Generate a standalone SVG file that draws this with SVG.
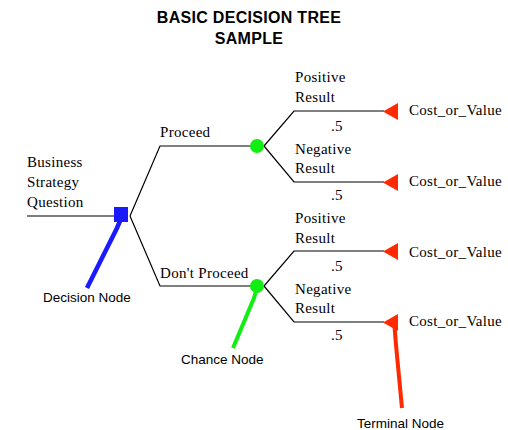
<svg xmlns="http://www.w3.org/2000/svg" width="508" height="430" viewBox="0 0 508 430">
  <style>
    .title { font-family: "Liberation Sans", Arial, sans-serif; font-weight: bold; font-size: 16px; fill: #000; letter-spacing: 0.3px; }
    .lbl { font-family: "Liberation Serif", "Times New Roman", serif; font-size: 15px; fill: #000; letter-spacing: 0.3px; }
    .call { font-family: "Liberation Sans", Arial, sans-serif; font-size: 13.5px; fill: #000; }
    .branch { fill: none; stroke: #000; stroke-width: 1.2; }
    .decision { fill: #1a1aff; }
    .chance { fill: #11ee11; }
    .terminal { fill: #ff2a00; }
  </style>

  <!-- title -->
  <text class="title" x="249" y="23" text-anchor="middle">BASIC DECISION TREE</text>
  <text class="title" x="249" y="44" text-anchor="middle">SAMPLE</text>

  <!-- connectors -->
  <g id="connectors">
    <polyline class="branch" points="27,216 115,216"/>
    <polyline class="branch" points="130,216 160,146 252,146"/>
    <polyline class="branch" points="130,216 160,286 252,286"/>
    <polyline class="branch" points="264,146 294,111 384,111"/>
    <polyline class="branch" points="264,146 294,182 384,182"/>
    <polyline class="branch" points="264,286 294,251 384,251"/>
    <polyline class="branch" points="264,286 294,322 384,322"/>
    <!-- callout pointers -->
    <polyline points="120,221 117,228 87,288" fill="none" stroke="#1a1aff" stroke-width="4.5"/>
    <polyline points="256,291 254,298 233,348" fill="none" stroke="#11ee11" stroke-width="4"/>
    <polyline points="394,320 396,345 402,408" fill="none" stroke="#ff2a00" stroke-width="4"/>
  </g>

  <!-- decision node -->
  <g id="decision-node">
    <rect class="decision" x="114" y="207" width="14" height="15"/>
    <text class="lbl" x="27" y="167">Business</text>
    <text class="lbl" x="27" y="187">Strategy</text>
    <text class="lbl" x="27" y="207">Question</text>
  </g>

  <!-- chance nodes -->
  <g id="chance-proceed">
    <circle class="chance" cx="257" cy="146" r="7"/>
    <text class="lbl" x="160" y="137">Proceed</text>
  </g>
  <g id="chance-dont-proceed">
    <circle class="chance" cx="257" cy="286" r="7"/>
    <text class="lbl" x="160" y="278">Don't Proceed</text>
  </g>

  <!-- terminal nodes -->
  <g id="terminal-1">
    <polygon class="terminal" points="383,111.5 398,103 398,120"/>
    <text class="lbl" x="295" y="82">Positive</text>
    <text class="lbl" x="295" y="102">Result</text>
    <text class="lbl" x="331" y="131">.5</text>
    <text class="lbl" x="409" y="115">Cost_or_Value</text>
  </g>
  <g id="terminal-2">
    <polygon class="terminal" points="383,182.5 398,174 398,191"/>
    <text class="lbl" x="295" y="154">Negative</text>
    <text class="lbl" x="295" y="173">Result</text>
    <text class="lbl" x="331" y="200">.5</text>
    <text class="lbl" x="409" y="186">Cost_or_Value</text>
  </g>
  <g id="terminal-3">
    <polygon class="terminal" points="383,251.5 398,243 398,260"/>
    <text class="lbl" x="295" y="223">Positive</text>
    <text class="lbl" x="295" y="243">Result</text>
    <text class="lbl" x="331" y="271">.5</text>
    <text class="lbl" x="409" y="257">Cost_or_Value</text>
  </g>
  <g id="terminal-4">
    <polygon class="terminal" points="383,322.5 398,314 398,331"/>
    <text class="lbl" x="295" y="294">Negative</text>
    <text class="lbl" x="295" y="313">Result</text>
    <text class="lbl" x="331" y="340">.5</text>
    <text class="lbl" x="409" y="326">Cost_or_Value</text>
  </g>

  <!-- callout captions -->
  <g id="decision-caption">
    <text class="call" x="43" y="302">Decision Node</text>
  </g>
  <g id="chance-caption">
    <text class="call" x="181" y="364">Chance Node</text>
  </g>
  <g id="terminal-caption">
    <text class="call" x="357" y="428">Terminal Node</text>
  </g>
</svg>
